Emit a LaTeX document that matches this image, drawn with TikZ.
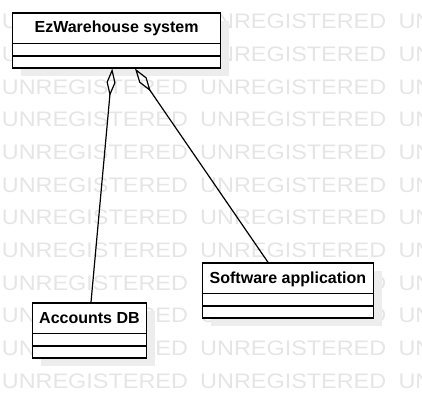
\documentclass[tikz,border=0pt]{standalone}
\usepackage{fontspec}
\setmainfont{Liberation Sans}
\usetikzlibrary{arrows.meta,shadows}
\begin{document}
\begin{tikzpicture}[x=1pt,y=-1pt,
  classbox/.style={draw=black,line width=1.2pt,fill=white,inner sep=0pt,anchor=north west,minimum height=55pt,
    drop shadow={shadow xshift=8.5pt,shadow yshift=-8.5pt,opacity=1,fill=black!7}},
  divider/.style={line width=1.2pt},
  classtitle/.style={font=\fontsize{16}{19}\selectfont\bfseries,anchor=base,inner sep=0pt},
  wm/.style={text=black!10,font=\fontsize{21}{25}\selectfont,anchor=base west,inner sep=0pt},
  agg/.style={line width=1.2pt,{Diamond[open,length=28pt,width=9pt]}-}]
\useasboundingbox (0,0) rectangle (422,407);
% watermark
\begin{scope}
  \clip (0,0) rectangle (422,407);
  \foreach \k in {0,...,11}{
    \foreach \xx [count=\i] in {1.7,200,398.3}{
      \node[wm] (wm-\k-\i) at (\xx,{388.3-32.7*(11-\k)}) {\scalebox{1.115}[1]{UNREGISTERED}};
    }
  }
\end{scope}
% classes
\node[classbox,minimum width=208pt] (ez) at (12,12.3) {};
\node[classbox,minimum width=113.7pt] (acc) at (32,302.3) {};
\node[classbox,minimum width=170.7pt] (sw) at (202,262.3) {};
\foreach \n in {ez,acc,sw}{
  \draw[divider] ([yshift=-31pt]\n.north west) -- ([yshift=-31pt]\n.north east);
  \draw[divider] ([yshift=-43.7pt]\n.north west) -- ([yshift=-43.7pt]\n.north east);
}
\node[classtitle] (ezt) at ([yshift=-20.5pt]ez.north) {EzWarehouse system};
\node[classtitle] (acct) at ([yshift=-21pt]acc.north) {Accounts DB};
\node[classtitle] (swt) at ([yshift=-21pt]sw.north) {Software application};
% aggregations
\draw[agg] ([xshift=100.3pt]ez.south west) -- ([xshift=59pt]acc.north west);
\draw[agg] ([xshift=123pt]ez.south west) -- ([xshift=66pt]sw.north west);
\end{tikzpicture}
\end{document}
